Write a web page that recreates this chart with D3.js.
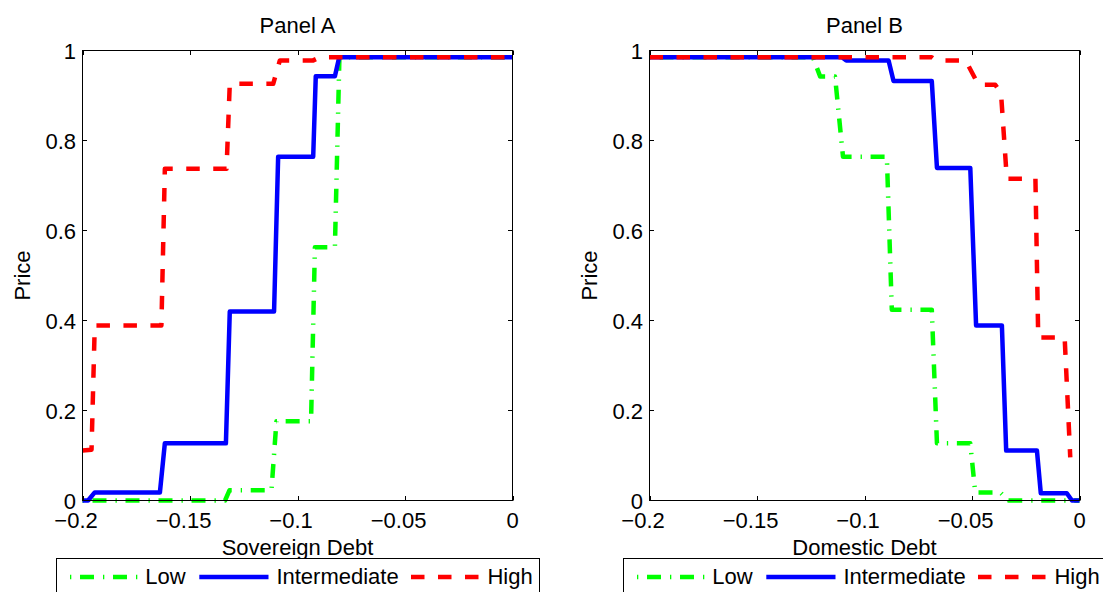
<!DOCTYPE html>
<html><head><meta charset="utf-8">
<script src="https://cdn.jsdelivr.net/npm/d3@7"></script>
<style>
body{margin:0;background:#fff;}
svg{display:block;}
text{font-family:"Liberation Sans",Arial,Helvetica,sans-serif;fill:#000;}
</style>
</head><body>
<svg id="chart" width="1103" height="592"></svg>
<script>
// ---- tick labels & names ----
const xTicks = [-0.2, -0.15, -0.1, -0.05, 0];
const xTickLabels = ["\u22120.2", "\u22120.15", "\u22120.1", "\u22120.05", "0"];
const yTicks = [0, 0.2, 0.4, 0.6, 0.8, 1];
const yTickLabels = ["0", "0.2", "0.4", "0.6", "0.8", "1"];
const seriesNames = ["Low", "Intermediate", "High"];
const panelTitles = ["Panel A", "Panel B"];
const xLabels = ["Sovereign Debt", "Domestic Debt"];
const yLabel = "Price";

// ---- Panel A: price vs sovereign debt ----
const sovDebtLow   = [-0.2, -0.1337, -0.1316, -0.1121, -0.1098, -0.0937, -0.0919, -0.0826, -0.0805, 0];
const sovPriceLow  = [0, 0, 0.023, 0.023, 0.176, 0.176, 0.563, 0.563, 0.985, 0.985];
const sovDebtMid   = [-0.2, -0.1974, -0.1943, -0.164, -0.1617, -0.1333, -0.1315, -0.1109, -0.109, -0.0927, -0.0915, -0.0826, -0.0806, 0];
const sovPriceMid  = [0, 0, 0.018, 0.018, 0.127, 0.127, 0.42, 0.42, 0.764, 0.764, 0.943, 0.943, 0.985, 0.985];
const sovDebtHigh  = [-0.2, -0.1958, -0.1943, -0.1633, -0.1617, -0.133, -0.1315, -0.1113, -0.1082, -0.0927, -0.0896, 0];
const sovPriceHigh = [0.111, 0.113, 0.389, 0.389, 0.737, 0.737, 0.926, 0.926, 0.978, 0.978, 0.985, 0.985];

// ---- Panel B: price vs domestic debt ----
const domDebtLow   = [-0.2, -0.124, -0.1206, -0.1137, -0.11, -0.0896, -0.0873, -0.0687, -0.0663, -0.0508, -0.0485, -0.0369, -0.033, 0];
const domPriceLow  = [0.985, 0.985, 0.942, 0.942, 0.764, 0.764, 0.424, 0.424, 0.127, 0.127, 0.018, 0.018, 0, 0];
const domDebtMid   = [-0.2, -0.1105, -0.1085, -0.0888, -0.0865, -0.0687, -0.0663, -0.0508, -0.0481, -0.0361, -0.0341, -0.0198, -0.018, -0.0059, -0.0035, 0];
const domPriceMid  = [0.985, 0.985, 0.978, 0.978, 0.932, 0.932, 0.739, 0.739, 0.389, 0.389, 0.111, 0.111, 0.016, 0.016, 0, 0];
const domDebtHigh  = [-0.2, -0.0687, -0.0667, -0.053, -0.047, -0.0392, -0.0365, -0.0338, -0.0205, -0.0192, -0.0069, -0.0043];
const domPriceHigh = [0.985, 0.985, 0.978, 0.978, 0.924, 0.924, 0.905, 0.715, 0.715, 0.362, 0.362, 0.096];

const styles = [
  {color: "#00ff00", dash: "1.3,8.7,14,9"},
  {color: "#0000ff", dash: null},
  {color: "#ff0000", dash: "13.5,13.5"}
];

const panels = [
  {offset: 0, xs: [sovDebtLow, sovDebtMid, sovDebtHigh], ys: [sovPriceLow, sovPriceMid, sovPriceHigh]},
  {offset: 567, xs: [domDebtLow, domDebtMid, domDebtHigh], ys: [domPriceLow, domPriceMid, domPriceHigh]}
];

const svg = d3.select("#chart");
const FONT = 22;
const LW = 4.5;

function textWidth(str) {
  const t = svg.append("text").attr("font-size", FONT).text(str);
  const w = t.node().getComputedTextLength();
  t.remove();
  return w;
}

panels.forEach((p, pi) => {
  const L = 82.5 + p.offset, R = 512.5 + p.offset, T = 50.5, B = 500.5;
  const x = d3.scaleLinear().domain([-0.2, 0]).range([L, R]);
  const y = d3.scaleLinear().domain([0, 1]).range([B, T]);
  const g = svg.append("g");

  // series lines
  const line = d3.line().x(d => x(d[0])).y(d => y(d[1]));
  p.xs.forEach((xs, si) => {
    const pts = xs.map((v, i) => [v, p.ys[si][i]]);
    g.append("path").datum(pts)
      .attr("d", line)
      .attr("fill", "none")
      .attr("stroke", styles[si].color)
      .attr("stroke-width", LW)
      .attr("stroke-linejoin", "round")
      .attr("stroke-linecap", "butt")
      .attr("stroke-dasharray", styles[si].dash);
  });

  // axes box
  g.append("rect").attr("x", L).attr("y", T).attr("width", R - L).attr("height", B - T)
    .attr("fill", "none").attr("stroke", "#000").attr("stroke-width", 1);

  const tl = 4.5;
  // x ticks (bottom & top, inside)
  xTicks.forEach((v, i) => {
    const xx = Math.round(x(v)) + 0.5;
    g.append("line").attr("x1", xx).attr("x2", xx).attr("y1", B).attr("y2", B - tl).attr("stroke", "#000");
    g.append("line").attr("x1", xx).attr("x2", xx).attr("y1", T).attr("y2", T + tl).attr("stroke", "#000");
    const lab = xTickLabels[i];
    const numW = textWidth(lab.replace("\u2212", ""));
    g.append("text").attr("font-size", FONT).attr("text-anchor", "end")
      .attr("x", x(v) + numW / 2).attr("y", 528).text(lab);
  });
  // y ticks (left & right, inside)
  yTicks.forEach((v, i) => {
    const yy = Math.round(y(v) - 0.5) + 0.5;
    g.append("line").attr("x1", L).attr("x2", L + tl).attr("y1", yy).attr("y2", yy).attr("stroke", "#000");
    g.append("line").attr("x1", R).attr("x2", R - tl).attr("y1", yy).attr("y2", yy).attr("stroke", "#000");
    g.append("text").attr("font-size", FONT).attr("text-anchor", "end")
      .attr("x", L - 6.5).attr("y", y(v) + 8).text(yTickLabels[i]);
  });

  // title & labels
  g.append("text").attr("font-size", FONT).attr("text-anchor", "middle")
    .attr("x", (L + R) / 2).attr("y", 33).text(panelTitles[pi]);
  g.append("text").attr("font-size", FONT).attr("text-anchor", "middle")
    .attr("x", (L + R) / 2).attr("y", 555).text(xLabels[pi]);
  g.append("text").attr("font-size", FONT).attr("text-anchor", "middle")
    .attr("transform", `translate(${30 + p.offset},275.5) rotate(-90)`).text(yLabel);

  // legend
  const lx = 56.5 + p.offset;
  g.append("rect").attr("x", lx).attr("y", 558.5).attr("width", 483).attr("height", 60)
    .attr("fill", "#fff").attr("stroke", "#000").attr("stroke-width", 1);
  const sampleX = [[70, 137.3], [199.3, 268.5], [411, 481]];
  const textX = [145.3, 276.4, 487.4];
  seriesNames.forEach((name, si) => {
    g.append("line")
      .attr("x1", sampleX[si][0] + p.offset).attr("x2", sampleX[si][1] + p.offset)
      .attr("y1", 577).attr("y2", 577)
      .attr("stroke", styles[si].color).attr("stroke-width", LW)
      .attr("stroke-linecap", "butt")
      .attr("stroke-dasharray", styles[si].dash);
    g.append("text").attr("font-size", FONT).attr("x", textX[si] + p.offset).attr("y", 584).text(name);
  });
});
</script>
</body></html>
